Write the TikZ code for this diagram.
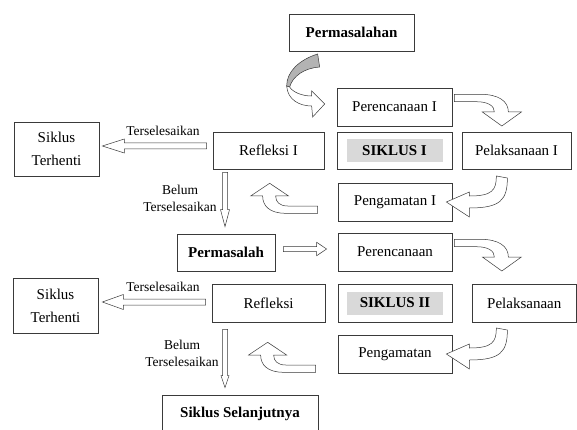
\documentclass[tikz,border=0pt]{standalone}
\usepackage{fontspec}
\setmainfont{Liberation Serif}
\usetikzlibrary{calc}
\definecolor{line}{HTML}{3A3A3A}
\definecolor{shade}{HTML}{D9D9D9}
\definecolor{ribbon}{HTML}{B3B3B3}
\tikzset{
  box/.style={draw=line, line width=0.7pt, align=center, inner sep=0pt,
    minimum width=115pt, minimum height=38pt, font=\fontsize{15}{23}\selectfont},
  boxb/.style={box, font=\fontsize{15}{23}\selectfont\bfseries},
  tag/.style={fill=shade, minimum width=96pt, minimum height=23pt, inner sep=0pt,
    font=\fontsize{15}{18}\selectfont\bfseries},
  lab/.style={align=center, inner sep=0pt, font=\fontsize{13.5}{17}\selectfont},
  blk/.style={draw=line, fill=white, line width=0.5pt, line join=miter},
  pics/bendright/.style={code={% plan -> act
    \draw[blk] (2,-12.7) -- (28,-12.7) .. controls (46,-12.7) and (56,-6) .. (56,5)
      -- (69,5) -- (49.5,19) -- (30,5) -- (42,5) .. controls (42,-1) and (36,-5.3) .. (24,-5.3)
      -- (2,-5.3) -- cycle;}},
  pics/bendleft/.style={code={% act -> observe
    \draw[blk] (44,-26) -- (55,-24) .. controls (55,-2) and (48,6) .. (17,6)
      -- (17,15) -- (-6,0) -- (17,-10) -- (17,-6) .. controls (40,-6) and (44,-12) .. (44,-26)
      -- cycle;}},
  pics/bendup/.style={code={% observe -> reflect
    \draw[blk] (-20,4) -- (-20,11.3) -- (-52,11.3) .. controls (-68,11.3) and (-75,4) .. (-75,-6)
      -- (-87,-6) -- (-68,-18.7) -- (-49,-6) -- (-62,-6) .. controls (-62,0) and (-58,4) .. (-50,4)
      -- cycle;}},
  pics/twist/.style={code={% problem -> plan
    \draw[blk, fill=ribbon] (-19,-53) .. controls (-38,-47) and (-50,-35) .. (-50,-21)
      -- (-47,-20) .. controls (-44,-31) and (-32,-39) .. (-17,-40) -- cycle;
    \draw[blk] (-50,-21) .. controls (-49,-7) and (-37,-1) .. (-25,-1) -- (-24,10) -- (-12,-3)
      -- (-25,-16) -- (-25,-11) .. controls (-35,-11) and (-44,-15) .. (-47,-20) -- cycle;}},
}
% straight block arrow: from, to, shaft half width, head half width, head length
\newcommand{\blkarrow}[5]{%
  \coordinate (ba-h) at ($(#2)!#5!(#1)$);
  \draw[blk] ($(#1)!#3!90:(#2)$) -- ($(ba-h)!#3!90:(#2)$) -- ($(ba-h)!#4!90:(#2)$) -- (#2)
    -- ($(ba-h)!#4!-90:(#2)$) -- ($(ba-h)!#3!-90:(#2)$) -- ($(#1)!#3!-90:(#2)$) -- cycle;}

\begin{document}
\begin{tikzpicture}[x=1pt,y=-1pt]
  \useasboundingbox (0,0) rectangle (577,430);
  \fill[white] (0,0) rectangle (577,430);

  % cycle I
  \node[boxb, minimum width=125pt, minimum height=37pt] (masalah1) at (351.5,32.5) {Permasalahan};
  \node[box] (renc1) at (394.5,107) {Perencanaan I};
  \node[box, minimum height=37pt] (siklus1) at (394.5,150.5) {};
  \node[tag] (tag1) at (siklus1) {SIKLUS I};
  \node[box, minimum width=111pt, minimum height=37pt] (refl1) at (268.5,150.5) {Refleksi I};
  \node[box, minimum width=109pt, minimum height=37pt] (laks1) at (516.5,150.5) {Pelaksanaan I};
  \node[box, minimum width=114pt] (amat1) at (395,202) {Pengamatan I};
  \node[box, minimum width=85pt, minimum height=54pt] (henti1) at (56.5,149) {Siklus\\Terhenti};

  % cycle II
  \node[boxb, minimum width=98pt, minimum height=37pt] (masalah2) at (226,252.5) {Permasalah};
  \node[box, minimum width=114pt] (renc2) at (395,252) {Perencanaan};
  \node[box, minimum width=114pt] (siklus2) at (395,303) {};
  \node[tag] (tag2) at (siklus2) {SIKLUS II};
  \node[box, minimum width=113pt] (refl2) at (268.5,303) {Refleksi};
  \node[box, minimum width=104.5pt] (laks2) at (524.25,303) {Pelaksanaan};
  \node[box, minimum width=114pt] (amat2) at (395,354) {Pengamatan};
  \node[box, minimum width=85pt, minimum height=55pt] (henti2) at (55.5,305.5) {Siklus\\Terhenti};
  \node[boxb, minimum width=156pt] (lanjut) at (240,414) {Siklus Selanjutnya};

  % curved arrows
  \pic at (renc1.west) {twist};
  \pic at (renc1.east) {bendright};
  \pic at (amat1.east) {bendleft};
  \pic at (amat1.west) {bendup};
  \pic at (renc2.east) {bendright};
  \pic at (amat2.east) {bendleft};
  \pic at ($(amat2.west)+(-2,7)$) {bendup};

  % straight arrows
  \coordinate (s1) at ($(refl1.west)+(-6,-4.5)$);
  \coordinate (e1) at ($(henti1.east)+(3,-3)$);
  \blkarrow{s1}{e1}{3pt}{7pt}{22pt}
  \coordinate (s2) at ($(refl1.south)+(-43.5,3)$);
  \coordinate (e2) at ($(masalah2.north)+(-1,-7)$);
  \blkarrow{s2}{e2}{2.5pt}{4.5pt}{17pt}
  \coordinate (s3) at ($(masalah2.east)+(8,-3.5)$);
  \coordinate (e3) at ($(renc2.west)+(-11,-3)$);
  \blkarrow{s3}{e3}{2.5pt}{6.7pt}{10pt}
  \coordinate (s4) at ($(refl2.west)+(-6,-1)$);
  \coordinate (e4) at ($(henti2.east)+(4,-3.5)$);
  \blkarrow{s4}{e4}{3pt}{7.5pt}{21pt}
  \coordinate (s5) at ($(refl2.south)+(-43.5,7)$);
  \coordinate (e5) at ($(lanjut.north)+(-15,-7)$);
  \blkarrow{s5}{e5}{2.5pt}{4pt}{12pt}

  \node[lab] (ts1) at (163,131) {Terselesaikan};
  \node[lab] (bt1) at (180,198.5) {Belum\\Terselesaikan};
  \node[lab] (ts2) at (163,287) {Terselesaikan};
  \node[lab] (bt2) at (182,353) {Belum\\Terselesaikan};
\end{tikzpicture}
\end{document}
